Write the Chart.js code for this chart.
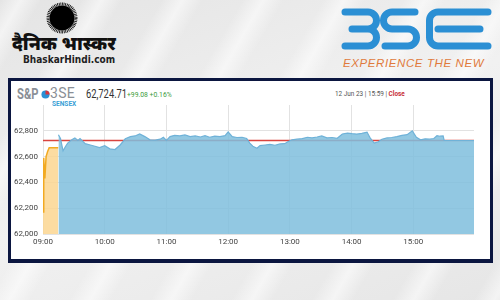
<!DOCTYPE html>
<html>
<head>
    <meta charset="UTF-8">
    <title>S&P BSE Sensex 12 Jun 23</title>
    <script src="https://cdn.jsdelivr.net/npm/chart.js@4.4.0/dist/chart.umd.min.js"></script>
    <style>
        body {
            margin: 0;
            width: 500px;
            height: 300px;
            overflow: hidden;
            position: relative;
            font-family: Roboto, Arial, sans-serif;
            background:
                repeating-linear-gradient(120deg, rgba(255,255,255,0) 0px, rgba(255,255,255,0.55) 18px, rgba(255,255,255,0) 36px, rgba(255,255,255,0) 70px),
                linear-gradient(160deg, #e4e4e4, #f1f1f1 50%, #e6e6e6);
        }
        #sun { position: absolute; left: 44px; top: 1px; }
        #bhaskar {
            position: absolute; left: 12px; top: 33px;
            font-family: 'Noto Sans Devanagari', 'Noto Sans', 'Lohit Devanagari', sans-serif;
            font-weight: 900; font-size: 18.5px; color: #111; white-space: nowrap;
        }
        #bhaskarSite {
            position: absolute; left: 23px; top: 54px;
            font-family: 'Liberation Sans Narrow', 'DejaVu Sans Condensed', sans-serif;
            font-weight: bold; font-size: 10px; color: #222;
        }
        #bse { position: absolute; left: 338px; top: 4px; }
        #tagline {
            position: absolute; left: 343px; top: 57px;
            font-family: 'Liberation Sans', Arial, sans-serif;
            font-style: italic; font-size: 11.5px; color: #e07a3c; letter-spacing: 0.6px;
            white-space: nowrap;
        }
        .frame {
            position: absolute; left: 8px; top: 78px; width: 479px; height: 178px;
            border: 3px solid #0b1640; border-bottom-width: 4px;
            background: #fff;
        }
        .t { position: absolute; white-space: nowrap; transform-origin: left top; }
        .snp { left: 6px; top: 5px; font-size: 14px; font-weight: bold; color: #8a8f96; transform: scaleX(0.8); }
        .dot { position: absolute; left: 30px; top: 9px; }
        .bse3 { left: 39px; top: 4px; font-size: 14px; color: #8a8f96; letter-spacing: 0.3px; }
        .sensex { left: 41px; top: 18px; font-size: 8px; font-weight: bold; color: #3a9fd6; transform: scaleX(0.82); }
        .price { left: 75px; top: 6px; font-size: 12px; color: #333; transform: scaleX(0.78); }
        .change { left: 116px; top: 9px; font-size: 8px; color: #3b9b3b; transform: scaleX(0.85); }
        .stamp { left: 324px; top: 8px; font-size: 8px; color: #555; transform: scaleX(0.8); }
        .stamp b { color: #c8303a; font-weight: bold; }
        canvas { position: absolute; left: 0; top: 0; }
    </style>
</head>
<body>
    <svg id="sun" width="36" height="36" viewBox="0 0 36 36">
        <circle cx="18" cy="17" r="12.5" fill="#000"/>
        <circle cx="18" cy="17" r="14" fill="none" stroke="#000" stroke-width="3" stroke-dasharray="0.8 0.8"/>
    </svg>
    <div id="bhaskar">दैनिक भास्कर</div>
    <div id="bhaskarSite">BhaskarHindi.com</div>

    <svg id="bse" width="156" height="50" viewBox="0 0 156 50" fill="none" stroke="#2b8fd4" stroke-width="7" stroke-linecap="round">
        <!-- 3 -->
        <path d="M7 8 H30 A8.5 8.5 0 0 1 30 25 H14 M30 25 A8.5 8.5 0 0 1 30 42 H7"/>
        <!-- S -->
        <path d="M77 8 H54 A8.5 8.5 0 0 0 54 25 H70 A8.5 8.5 0 0 1 70 42 H47"/>
        <!-- E -->
        <path d="M150 8 H100 A8.5 8.5 0 0 0 91.5 16.5 V33.5 A8.5 8.5 0 0 0 100 42 H150 M100 25 H142"/>
    </svg>
    <div id="tagline">EXPERIENCE THE NEW</div>

    <div class="frame">
        <span class="t snp">S&amp;P</span>
        <svg class="dot" width="9" height="9" viewBox="0 0 10 10">
            <circle cx="5" cy="5" r="4.5" fill="#2b8fd4"/>
            <path d="M5 0.5 A4.5 4.5 0 0 1 9.5 5 L5 5 Z" fill="#d8343c"/>
        </svg>
        <span class="t bse3">3SE</span>
        <div class="t sensex">SENSEX</div>
        <div class="t price">62,724.71</div>
        <div class="t change">+99.08 +0.16%</div>
        <div class="t stamp">12 Jun 23 | 15:59 | <b>Close</b></div>
        <canvas id="sensexChart" width="479" height="178"></canvas>
    </div>

    <script>
        // minutes after 09:00
        const preTimes  = [0, 0.7, 1.8, 3, 4.5, 6, 14.8];
        const preValues = [62170, 62590, 62430, 62600, 62640, 62668, 62668];

        const times = [15, 17, 19.5, 22, 24, 28, 31, 34, 36, 41, 46, 50.5, 55, 60, 65, 70, 75, 80, 85, 89.5,
            94, 99, 104, 109, 114, 117, 120, 123.5, 128, 133, 138, 143, 148, 153, 157.5, 162, 167, 172, 177, 180,
            184, 188.5, 193.5, 198, 201, 204, 208, 211, 216, 220.5, 225.5, 230.5, 235, 238, 242, 247, 252, 257,
            261.5, 266.5, 271, 276, 281, 286, 291, 296, 300.5, 305, 310, 315, 318, 322, 326, 329.5, 334.5, 339,
            344, 349, 354, 359, 363, 367, 371.5, 376, 380, 383, 386, 389, 390, 419];
        const values = [62770, 62740, 62645, 62680, 62705, 62730, 62745, 62725, 62740, 62700, 62690, 62680, 62670,
            62685, 62660, 62655, 62690, 62738, 62755, 62760, 62775, 62755, 62730, 62728, 62735, 62750, 62725, 62755,
            62765, 62760, 62768, 62755, 62760, 62752, 62762, 62750, 62758, 62755, 62762, 62792, 62755, 62748, 62750,
            62740, 62705, 62680, 62665, 62685, 62690, 62695, 62688, 62698, 62700, 62715, 62730, 62735, 62740, 62750,
            62745, 62752, 62760, 62745, 62748, 62742, 62775, 62782, 62778, 62775, 62780, 62790, 62745, 62705, 62715,
            62735, 62745, 62748, 62755, 62765, 62770, 62800, 62750, 62730, 62738, 62735, 62740, 62762, 62758, 62760,
            62725, 62725];

        const closeValue = 62724.71;
        const hourTicks  = [0, 60, 120, 180, 240, 300, 360];
        const hourLabels = ['09:00', '10:00', '11:00', '12:00', '13:00', '14:00', '15:00'];
        const yTicks = [62000, 62200, 62400, 62600, 62800];

        const toPoints = (xs, ys) => xs.map((x, i) => ({ x: x, y: ys[i] }));

        const ctx = document.getElementById('sensexChart').getContext('2d');
        new Chart(ctx, {
            type: 'line',
            data: {
                datasets: [
                    {
                        label: 'Sensex',
                        data: toPoints(times, values),
                        borderColor: '#6fb2d8',
                        backgroundColor: 'rgba(128,191,221,0.86)',
                        borderWidth: 1.2,
                        fill: 'start',
                        pointRadius: 0,
                        order: 1
                    },
                    {
                        label: 'Pre-open',
                        data: toPoints(preTimes, preValues),
                        borderColor: '#f2aa22',
                        backgroundColor: 'rgba(252,214,145,0.85)',
                        borderWidth: 1.5,
                        fill: 'start',
                        pointRadius: 0,
                        order: 2
                    },
                    {
                        label: 'Close',
                        data: toPoints([0, 419], [closeValue, closeValue]),
                        borderColor: '#d9443f',
                        borderWidth: 1.5,
                        fill: false,
                        pointRadius: 0,
                        order: 3
                    }
                ]
            },
            options: {
                responsive: false,
                animation: false,
                devicePixelRatio: 1,
                layout: { padding: { top: 24, right: 16, left: 0, bottom: 0 } },
                plugins: { legend: { display: false }, tooltip: { enabled: false } },
                scales: {
                    x: {
                        type: 'linear',
                        min: 0,
                        max: 419,
                        afterBuildTicks: axis => { axis.ticks = hourTicks.map(v => ({ value: v })); },
                        afterFit: axis => { axis.height = 25; },
                        ticks: {
                            padding: 3,
                            maxRotation: 0,
                            autoSkip: false,
                            color: '#444',
                            font: { family: 'Roboto', size: 8 },
                            callback: (value) => hourLabels[hourTicks.indexOf(value)]
                        },
                        grid: { color: '#e2e2e2', drawTicks: false },
                        border: { display: false }
                    },
                    y: {
                        min: 62000,
                        max: 63000,
                        afterBuildTicks: axis => { axis.ticks = yTicks.map(v => ({ value: v })); },
                        afterFit: axis => { axis.width = 32; },
                        ticks: {
                            padding: 5,
                            color: '#444',
                            font: { family: 'Roboto', size: 8 },
                            callback: value => value.toLocaleString('en-US')
                        },
                        grid: { color: '#e2e2e2', drawTicks: false },
                        border: { display: false }
                    }
                }
            }
        });
    </script>
</body>
</html>
